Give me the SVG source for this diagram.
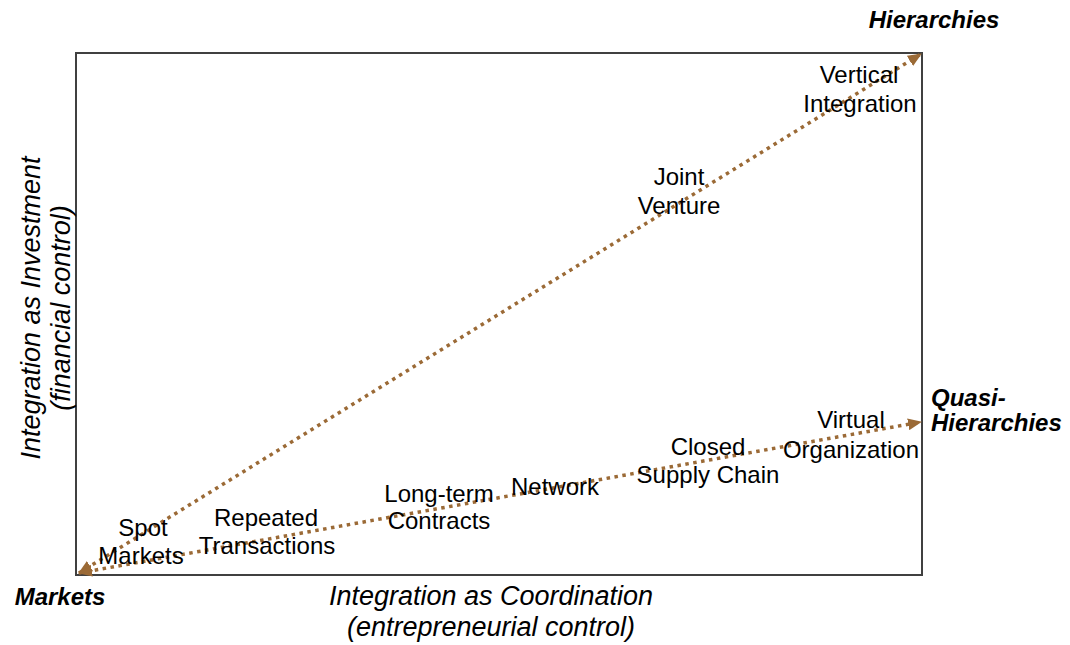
<svg xmlns="http://www.w3.org/2000/svg" width="1070" height="645" viewBox="0 0 1070 645">
<style>
.lbl{font-family:"Liberation Sans",Arial,sans-serif;font-size:24px;fill:#000;text-anchor:middle}
.end{font-family:"Liberation Sans",Arial,sans-serif;font-size:24px;font-weight:bold;font-style:italic;fill:#000}
.axis{font-family:"Liberation Sans",Arial,sans-serif;font-size:27px;font-style:italic;fill:#000;text-anchor:middle}
.conn{fill:none;stroke:#9B6A36;stroke-width:3.5;stroke-dasharray:3.5 4.5;marker-start:url(#ah);marker-end:url(#ah)}
</style>
<defs>
<marker id="ah" viewBox="0 0 14 12" refX="13" refY="6" markerWidth="14" markerHeight="12" markerUnits="userSpaceOnUse" orient="auto-start-reverse">
<path d="M0,0 L14,6 L0,12 Z" fill="#9B6A36"/>
</marker>
</defs>
<rect id="frame" x="76" y="53" width="846" height="522" fill="#fff" stroke="#404040" stroke-width="2"/>
<g id="connectors">
<line class="conn" x1="79" y1="573" x2="921" y2="54"/>
<line class="conn" x1="79" y1="573" x2="921" y2="422"/>
</g>
<g id="vertical-integration"><text class="lbl" x="859" y="83">Vertical</text><text class="lbl" x="860" y="112">Integration</text></g>
<g id="joint-venture"><text class="lbl" x="679" y="185">Joint</text><text class="lbl" x="679" y="214">Venture</text></g>
<g id="virtual-organization"><text class="lbl" x="851" y="428">Virtual</text><text class="lbl" x="851" y="458">Organization</text></g>
<g id="closed-supply-chain"><text class="lbl" x="708" y="455">Closed</text><text class="lbl" x="708" y="483">Supply Chain</text></g>
<g id="network"><text class="lbl" x="555" y="495">Network</text></g>
<g id="long-term-contracts"><text class="lbl" x="439" y="502">Long-term</text><text class="lbl" x="439" y="529">Contracts</text></g>
<g id="repeated-transactions"><text class="lbl" x="266" y="526">Repeated</text><text class="lbl" x="267" y="554">Transactions</text></g>
<g id="spot-markets"><text class="lbl" x="143" y="536">Spot</text><text class="lbl" x="141" y="564">Markets</text></g>
<g id="hierarchies"><text class="end" x="934" y="28" text-anchor="middle">Hierarchies</text></g>
<g id="quasi-hierarchies"><text class="end" x="931" y="406">Quasi-</text><text class="end" x="931" y="431">Hierarchies</text></g>
<g id="markets"><text class="end" x="60" y="605" text-anchor="middle">Markets</text></g>
<g id="x-axis"><text class="axis" x="491" y="605">Integration as Coordination</text><text class="axis" x="491" y="636">(entrepreneurial control)</text></g>
<g id="y-axis" transform="translate(0,308) rotate(-90)"><text class="axis" x="0" y="40">Integration as Investment</text><text class="axis" x="0" y="70">(financial control)</text></g>
</svg>
